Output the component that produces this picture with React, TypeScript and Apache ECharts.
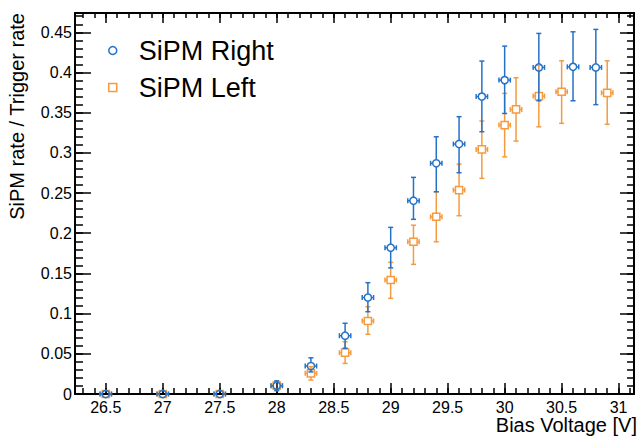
import React, { useEffect, useRef } from "react";
import * as echarts from "echarts";

// ---- data ----
const voltRight = [26.5, 27, 27.5, 28, 28.3, 28.6, 28.8, 29, 29.2, 29.4, 29.6, 29.8, 30, 30.3, 30.6, 30.8];
const rateRight = [0, 0, 0, 0.0103, 0.0348, 0.0725, 0.12, 0.182, 0.2404, 0.287, 0.311, 0.37, 0.3905, 0.4063, 0.407, 0.4063];
const rightLower = [0, 0, 0, 0.0043, 0.0275, 0.057, 0.1024, 0.157, 0.2173, 0.2516, 0.2753, 0.3263, 0.349, 0.3648, 0.3648, 0.36];
const rightUpper = [0, 0, 0, 0.0163, 0.045, 0.088, 0.1385, 0.2073, 0.2695, 0.32, 0.345, 0.4142, 0.4328, 0.4486, 0.4506, 0.4536];

const voltLeft = [26.5, 27, 27.5, 28, 28.3, 28.6, 28.8, 29, 29.2, 29.4, 29.6, 29.8, 30, 30.1, 30.3, 30.5, 30.9];
const rateLeft = [0, 0, 0, 0.0103, 0.0257, 0.0514, 0.0908, 0.1418, 0.1894, 0.2205, 0.2537, 0.3043, 0.3346, 0.354, 0.3706, 0.376, 0.3747];
const leftLower = [0, 0, 0, 0.0043, 0.0174, 0.038, 0.0743, 0.119, 0.1613, 0.1894, 0.2218, 0.2683, 0.295, 0.3147, 0.3324, 0.3367, 0.3355];
const leftUpper = [0, 0, 0, 0.0163, 0.034, 0.065, 0.1086, 0.1638, 0.21, 0.2516, 0.286, 0.3396, 0.374, 0.3934, 0.409, 0.4145, 0.4145];

const voltError = 0.05;

const xMajorTicks = [26.5, 27, 27.5, 28, 28.5, 29, 29.5, 30, 30.5, 31];
const yMajorTicks = [0, 0.05, 0.1, 0.15, 0.2, 0.25, 0.3, 0.35, 0.4, 0.45];

const X_MIN = 26.23;
const X_MAX = 31.135;
const Y_MIN = 0;
const Y_MAX = 0.474;

const xMinorTicks: number[] = [];
for (let i = 263; i <= 311; i++) xMinorTicks.push(i / 10);
const yMinorTicks: number[] = [];
for (let i = 1; i <= 47; i++) yMinorTicks.push(i / 100);

const BLUE = "#2472c8";
const ORANGE = "#f59b3f";
const FONT = "Liberation Sans, Arial, Helvetica, sans-serif";

function makeRender(shape: "circle" | "rect", color: string) {
  return (params: any, api: any) => {
    const x = api.value(0);
    const y = api.value(1);
    const lo = api.value(2);
    const hi = api.value(3);
    const c = api.coord([x, y]);
    const px = c[0];
    const py = c[1];
    const pLo = api.coord([x, lo])[1];
    const pHi = api.coord([x, hi])[1];
    const pL = api.coord([x - voltError, y])[0];
    const pR = api.coord([x + voltError, y])[0];
    const r = 3.6;
    const cap = 2.5;
    const st = { stroke: color, lineWidth: 1.5, fill: null };
    const line = (x1: number, y1: number, x2: number, y2: number) => ({
      type: "line",
      shape: { x1, y1, x2, y2 },
      style: st,
    });
    const children: any[] = [];
    if (pHi < py - r) {
      children.push(line(px, pHi, px, py - r));
      children.push(line(px - cap, pHi, px + cap, pHi));
    }
    if (pLo > py + r) {
      children.push(line(px, py + r, px, pLo));
      children.push(line(px - cap, pLo, px + cap, pLo));
    }
    children.push(line(pL, py, px - r, py));
    children.push(line(px + r, py, pR, py));
    children.push(line(pL, py - cap, pL, py + cap));
    children.push(line(pR, py - cap, pR, py + cap));
    if (shape === "circle") {
      children.push({
        type: "circle",
        shape: { cx: px, cy: py, r },
        style: { stroke: color, lineWidth: 1.5, fill: "rgba(255,255,255,0)" },
      });
    } else {
      children.push({
        type: "rect",
        shape: { x: px - r, y: py - r, width: 2 * r, height: 2 * r },
        style: { stroke: color, lineWidth: 1.5, fill: "rgba(255,255,255,0)" },
      });
    }
    return { type: "group", children };
  };
}

const axisLineStyle = { color: "#000", width: 2 };
const tickLineStyle = { color: "#000", width: 1.5 };

export default function App() {
  const ref = useRef<HTMLDivElement>(null);
  useEffect(() => {
    if (!ref.current) return;
    const chart = echarts.init(ref.current, null, { renderer: "svg" });
    const gridRect = { left: 75, right: 7, top: 13, bottom: 44, containLabel: false };
    const xBase = { type: "value", min: X_MIN, max: X_MAX, splitLine: { show: false } };
    const yBase = { type: "value", min: Y_MIN, max: Y_MAX, splitLine: { show: false } };
    chart.setOption({
      animation: false,
      backgroundColor: "#fff",
      textStyle: { fontFamily: FONT },
      grid: [gridRect, { ...gridRect }],
      xAxis: [
        {
          ...xBase,
          gridIndex: 0,
          position: "bottom",
          axisLine: { show: true, onZero: false, lineStyle: axisLineStyle },
          axisTick: { show: true, inside: true, length: 11, customValues: xMajorTicks, lineStyle: tickLineStyle },
          axisLabel: { show: true, customValues: xMajorTicks, margin: 5, fontSize: 16, color: "#000", fontFamily: FONT },
        },
        {
          ...xBase,
          gridIndex: 0,
          position: "top",
          axisLine: { show: true, onZero: false, lineStyle: axisLineStyle },
          axisTick: { show: true, inside: true, length: 10, customValues: xMajorTicks, lineStyle: tickLineStyle },
          axisLabel: { show: false },
        },
        {
          ...xBase,
          gridIndex: 1,
          position: "bottom",
          axisLine: { show: false, onZero: false },
          axisTick: { show: true, inside: true, length: 6, customValues: xMinorTicks, lineStyle: tickLineStyle },
          axisLabel: { show: false },
        },
        {
          ...xBase,
          gridIndex: 1,
          position: "top",
          axisLine: { show: false, onZero: false },
          axisTick: { show: true, inside: true, length: 5, customValues: xMinorTicks, lineStyle: tickLineStyle },
          axisLabel: { show: false },
        },
      ],
      yAxis: [
        {
          ...yBase,
          gridIndex: 0,
          position: "left",
          axisLine: { show: true, onZero: false, lineStyle: axisLineStyle },
          axisTick: { show: true, inside: true, length: 16, customValues: yMajorTicks, lineStyle: tickLineStyle },
          axisLabel: { show: true, customValues: yMajorTicks, margin: 3, fontSize: 16, color: "#000", fontFamily: FONT },
        },
        {
          ...yBase,
          gridIndex: 0,
          position: "right",
          axisLine: { show: true, onZero: false, lineStyle: axisLineStyle },
          axisTick: { show: true, inside: true, length: 14, customValues: yMajorTicks, lineStyle: tickLineStyle },
          axisLabel: { show: false },
        },
        {
          ...yBase,
          gridIndex: 1,
          position: "left",
          axisLine: { show: false, onZero: false },
          axisTick: { show: true, inside: true, length: 8, customValues: yMinorTicks, lineStyle: tickLineStyle },
          axisLabel: { show: false },
        },
        {
          ...yBase,
          gridIndex: 1,
          position: "right",
          axisLine: { show: false, onZero: false },
          axisTick: { show: true, inside: true, length: 7, customValues: yMinorTicks, lineStyle: tickLineStyle },
          axisLabel: { show: false },
        },
      ],
      legend: {
        orient: "vertical",
        left: 103,
        top: 32,
        itemGap: 10,
        itemWidth: 42,
        itemHeight: 8,
        symbolKeepAspect: true,
        textStyle: { fontSize: 27, lineHeight: 26, color: "#000", fontFamily: FONT },
        data: [
          {
            name: "SiPM Right",
            icon: "circle",
            itemStyle: { color: "rgba(255,255,255,0)", borderColor: BLUE, borderWidth: 1.5 },
          },
          {
            name: "SiPM Left",
            icon: "path://M0,0L10,0L10,10L0,10Z",
            itemStyle: { color: "rgba(255,255,255,0)", borderColor: ORANGE, borderWidth: 1.5 },
          },
        ],
      },
      graphic: [
        {
          type: "text",
          x: 17,
          y: 13,
          rotation: Math.PI / 2,
          style: {
            text: "SiPM rate / Trigger rate",
            align: "right",
            verticalAlign: "middle",
            fontSize: 20,
            fontFamily: FONT,
            fill: "#000",
          },
        },
        {
          type: "text",
          x: 637,
          y: 425,
          style: {
            text: "Bias Voltage [V]",
            align: "right",
            verticalAlign: "middle",
            fontSize: 20,
            fontFamily: FONT,
            fill: "#000",
          },
        },
      ],
      series: [
        {
          name: "SiPM Left",
          type: "custom",
          xAxisIndex: 0,
          yAxisIndex: 0,
          itemStyle: { color: ORANGE },
          renderItem: makeRender("rect", ORANGE),
          encode: { x: 0, y: [1, 2, 3] },
          data: voltLeft.map((v, i) => [v, rateLeft[i], leftLower[i], leftUpper[i]]),
          z: 2,
        },
        {
          name: "SiPM Right",
          type: "custom",
          xAxisIndex: 0,
          yAxisIndex: 0,
          itemStyle: { color: BLUE },
          renderItem: makeRender("circle", BLUE),
          encode: { x: 0, y: [1, 2, 3] },
          data: voltRight.map((v, i) => [v, rateRight[i], rightLower[i], rightUpper[i]]),
          z: 3,
        },
      ],
    });
    return () => chart.dispose();
  }, []);
  return <div ref={ref} style={{ width: 641, height: 438, position: "absolute", left: 0, top: 0 }} />;
}
